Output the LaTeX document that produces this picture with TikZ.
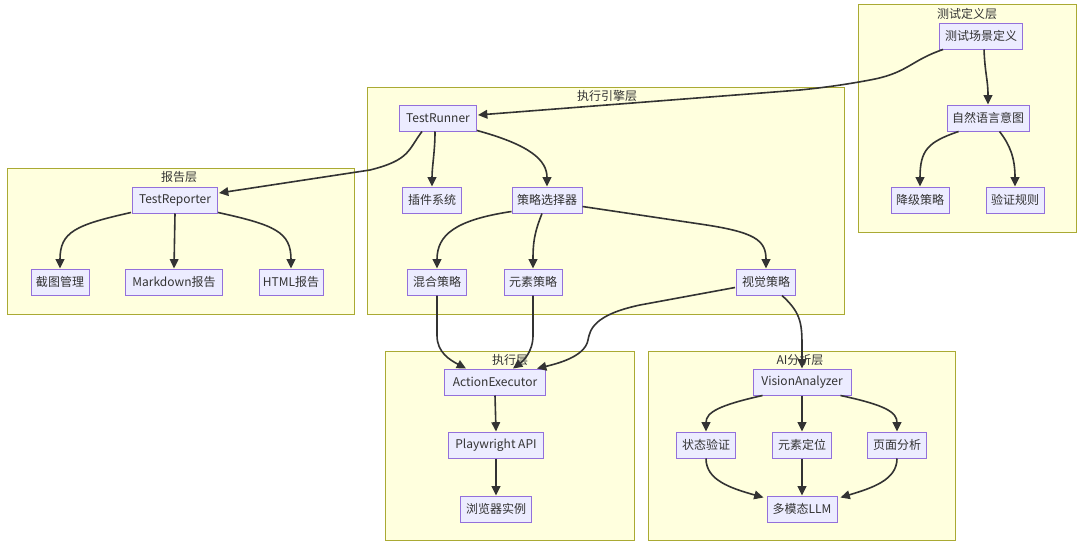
\documentclass[tikz,border=0pt]{standalone}
\usepackage{fontspec}
\setmainfont{Noto Sans CJK SC}
\usetikzlibrary{calc,arrows.meta}
\definecolor{nfill}{HTML}{ECECFF}
\definecolor{nbord}{HTML}{9370DB}
\definecolor{cfill}{HTML}{FFFFDE}
\definecolor{cbord}{HTML}{AAAA33}
\definecolor{ink}{HTML}{333333}
\begin{document}
\begin{tikzpicture}[x=0.75pt,y=-0.75pt,
  nbox/.style={draw=nbord, fill=nfill, line width=0.75pt, text=ink,
    font=\fontsize{9}{11}\selectfont, minimum height=19.5pt, inner sep=0pt,
    minimum width=#1*0.75pt},
  cluster/.style={draw=cbord, fill=cfill, line width=0.75pt},
  clabel/.style={text=ink, font=\fontsize{9}{11}\selectfont, inner sep=0pt},
  conn/.style={draw=ink, line width=1.2pt, -{Triangle[length=7pt,width=6.5pt]}}
]
\fill[white] (0,0) rectangle (1080,546);
\useasboundingbox (0,0) rectangle (1080,546);

% clusters
\draw[cluster] (858,4) rectangle (1076,232);
\draw[cluster] (367,87) rectangle (844,314);
\draw[cluster] (7,168) rectangle (354,314);
\draw[cluster] (385,351) rectangle (634,540);
\draw[cluster] (648,351) rectangle (955,540);

\node[clabel] (l1) at (967,14) {测试定义层};
\node[clabel] (l2) at (607,96) {执行引擎层};
\node[clabel] (l3) at (179,177) {报告层};
\node[clabel] (l4) at (510,360) {执行层};
\node[clabel] (l5) at (800,360) {AI分析层};

% nodes
\node[nbox=83] (tsd) at (981,36) {测试场景定义};
\node[nbox=82] (nli) at (988,118) {自然语言意图};
\node[nbox=58] (jj) at (920,200) {降级策略};
\node[nbox=58] (yz) at (1015,200) {验证规则};

\node[nbox=77] (tr) at (438,118) {TestRunner};
\node[nbox=59] (cj) at (432,200) {插件系统};
\node[nbox=70] (cl) at (547,200) {策略选择器};
\node[nbox=59] (hh) at (437,282) {混合策略};
\node[nbox=58] (ys) at (533,282) {元素策略};
\node[nbox=59] (sj) at (766,282) {视觉策略};

\node[nbox=85] (rep) at (175,200) {TestReporter};
\node[nbox=58] (jt) at (60,282) {截图管理};
\node[nbox=97] (md) at (174,282) {Markdown报告};
\node[nbox=64] (html) at (291,282) {HTML报告};

\node[nbox=101] (ae) at (495,382) {ActionExecutor};
\node[nbox=95] (pw) at (496,445) {Playwright API};
\node[nbox=71] (br) at (496,509) {浏览器实例};

\node[nbox=98] (va) at (802,382) {VisionAnalyzer};
\node[nbox=59] (zt) at (706,445) {状态验证};
\node[nbox=59] (yd) at (802,445) {元素定位};
\node[nbox=59] (ym) at (897,445) {页面分析};
\node[nbox=70] (llm) at (802,509) {多模态LLM};

% connectors
\draw[conn] ($(tsd.south)+(3,0)$) .. controls +(1,25) and +(0,-25) .. (nli.north);
\draw[conn] ($(tsd.south west)+(4,0)$) .. controls (912,60) and (908,72) .. (875,79)
   .. controls (855,83) and (830,87) .. (800,90) -- ($(tr.east)+(1,-3)$);
\draw[conn] ($(nli.south west)+(12,0)$) .. controls (928,142) and (920,150) .. (jj.north);
\draw[conn] ($(nli.south east)+(-30,0)$) .. controls (1010,145) and (1015,158) .. (yz.north);

\draw[conn] ($(tr.south west)+(23,0)$) .. controls (408,150) and (410,160) .. (370,170)
   -- ($(rep.east)+(1,-7)$);
\draw[conn] ($(tr.south)+(-3,0)$) .. controls +(0,20) and +(0,-20) .. (cj.north);
\draw[conn] ($(tr.south east)+(0,-1)$) .. controls (530,145) and (547,160) .. (cl.north);
\draw[conn] ($(cl.south west)+(0,-2)$) .. controls (455,220) and (437,235) .. (hh.north);
\draw[conn] ($(cl.south)+(-5,0)$) .. controls +(-8,20) and +(0,-25) .. (ys.north);
\draw[conn] ($(cl.south east)+(0,-7)$) -- (700,224) .. controls (755,232) and (766,240) .. (sj.north);

\draw[conn] ($(rep.south west)+(-1,-1)$) .. controls (75,225) and (60,232) .. (jt.north);
\draw[conn] (rep.south) -- (md.north);
\draw[conn] ($(rep.south east)+(0,-1)$) .. controls (275,225) and (291,232) .. (html.north);

\draw[conn] (hh.south) -- ($(hh.south)+(0,40)$) .. controls +(0,17) and (450,360) .. ($(ae.north west)+(22,0)$);
\draw[conn] (ys.south) -- ($(ys.south)+(0,40)$) .. controls +(0,17) and (522,362) .. ($(ae.north)+(18,0)$);
\draw[conn] ($(sj.south west)+(-1,-8)$) -- (640,305) .. controls (593,315) and (590,330) .. (588,340)
   .. controls (585,356) and (560,363) .. ($(ae.north east)+(-9,0)$);
\draw[conn] ($(sj.south)+(16,0)$) .. controls (800,312) and (802,322) .. (802,345) -- (va.north);

\draw[conn] (ae.south) -- (pw.north);
\draw[conn] (pw.south) -- (br.north);

\draw[conn] ($(va.south west)+(10,0)$) .. controls (720,405) and (706,412) .. (zt.north);
\draw[conn] (va.south) -- (yd.north);
\draw[conn] ($(va.south east)+(-11,0)$) .. controls (885,405) and (897,412) .. (ym.north);
\draw[conn] (zt.south) .. controls (706,480) and (730,488) .. ($(llm.north west)+(-3,2)$);
\draw[conn] (yd.south) -- (llm.north);
\draw[conn] (ym.south) .. controls (897,480) and (872,488) .. ($(llm.north east)+(3,2)$);
\end{tikzpicture}
\end{document}
